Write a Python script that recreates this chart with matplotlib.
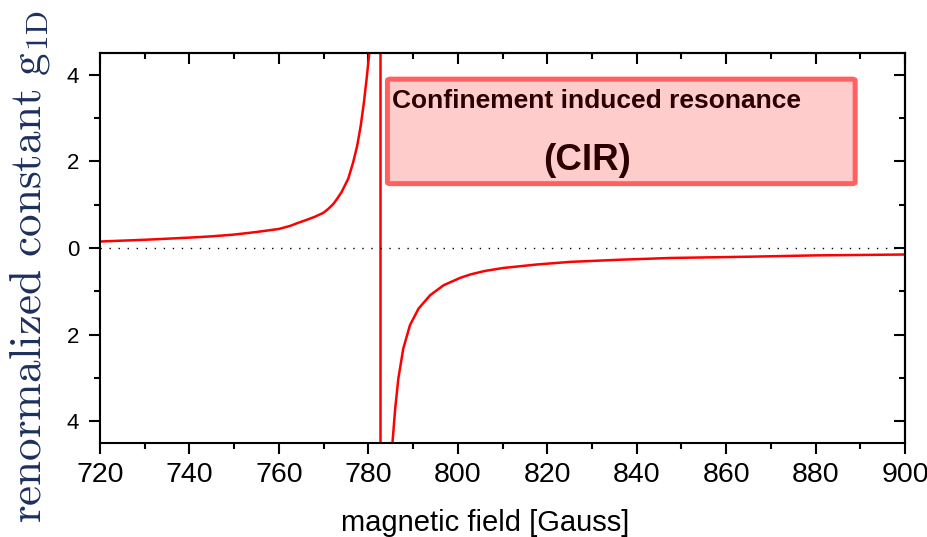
import matplotlib.pyplot as plt
from matplotlib.patches import FancyBboxPatch
from matplotlib.ticker import MultipleLocator, FuncFormatter

plt.rcParams['font.family'] = ['Liberation Sans', 'DejaVu Sans']
plt.rcParams['mathtext.fontset'] = 'cm'

# values
left_field = [720, 730, 740, 745, 750, 755, 760, 762.5, 764, 766.2, 768, 769.9, 771,
              772.2, 773.1, 774.0, 775.5, 776.6, 777.5, 778.3, 779.0, 779.6, 780.2, 780.5]
left_g = [0.15, 0.19, 0.24, 0.27, 0.31, 0.37, 0.44, 0.51, 0.57, 0.65, 0.72, 0.81, 0.90,
          1.02, 1.15, 1.29, 1.60, 1.98, 2.36, 2.83, 3.36, 3.90, 4.5, 5.0]
right_field = [785.2, 785.4, 786.0, 786.7, 787.8, 789.3, 791.2, 793.8, 796.8, 800.5,
               802.8, 806, 810.2, 817.7, 825.1, 836.3, 847.5, 865.4, 880, 900]
right_g = [-5.0, -4.47, -3.70, -3.01, -2.32, -1.78, -1.40, -1.09, -0.86, -0.69,
           -0.61, -0.53, -0.46, -0.38, -0.32, -0.27, -0.23, -0.20, -0.17, -0.15]
cir_field = 782.5

fig = plt.figure(figsize=(9.28, 5.37), dpi=100)
ax = fig.add_axes([0.1078, 0.175, 0.8675, 0.7263])

ax.plot(left_field, left_g, color='red', lw=1.8)
ax.plot(right_field, right_g, color='red', lw=1.8)
ax.axvline(cir_field, color='red', lw=1.8)
ax.axhline(0, color='black', lw=1, linestyle=(0, (1, 5.5)))

ax.set_xlim(720, 900)
ax.set_ylim(-4.5, 4.5)

for s in ax.spines.values():
    s.set_linewidth(1.5)

ax.xaxis.set_major_locator(MultipleLocator(20))
ax.xaxis.set_minor_locator(MultipleLocator(10))
ax.yaxis.set_major_locator(MultipleLocator(2))
ax.yaxis.set_minor_locator(MultipleLocator(1))
# negative values shown without sign, like the original
ax.yaxis.set_major_formatter(FuncFormatter(lambda v, p: '%d' % abs(v)))

ax.tick_params(which='both', direction='out', width=1.5)
ax.tick_params(which='major', length=8)
ax.tick_params(which='minor', length=4.3)
ax.tick_params(axis='x', labelsize=20.5, pad=6)
ax.tick_params(axis='y', labelsize=16, pad=7)

# mirrored ticks pointing inwards on top and right
top = ax.secondary_xaxis('top')
top.xaxis.set_major_locator(MultipleLocator(20))
top.xaxis.set_minor_locator(MultipleLocator(10))
top.tick_params(which='both', direction='in', width=1.5, labeltop=False)
top.tick_params(which='major', length=8)
top.tick_params(which='minor', length=4.3)
right = ax.secondary_yaxis('right')
right.yaxis.set_major_locator(MultipleLocator(2))
right.yaxis.set_minor_locator(MultipleLocator(1))
right.tick_params(which='both', direction='in', width=1.5, labelright=False)
right.tick_params(which='major', length=8)
right.tick_params(which='minor', length=4.3)
top.spines['top'].set_linewidth(1.5)
right.spines['right'].set_linewidth(1.5)

ax.set_xlabel('magnetic field [Gauss]', fontsize=21)
ax.xaxis.set_label_coords(0.478, -0.168)

fig.text(30 / 928, 1 - 267 / 537, r'$\mathrm{renormalized\ constant\ g_{1D}}$',
         rotation=90, ha='center', va='center', fontsize=32.5, color='#1c2f5e')

box = FancyBboxPatch((0.357, 0.665), 0.581, 0.268, boxstyle='round,pad=0,rounding_size=0.004',
                     transform=ax.transAxes, facecolor='#ffcccc', edgecolor='#ff6060',
                     lw=3.6, zorder=3)
ax.add_patch(box)
ax.text(0.3624, 0.860, 'Confinement induced resonance', transform=ax.transAxes,
        fontsize=19, fontweight='bold', color='#2b0000', ha='left', va='baseline', zorder=4)
ax.text(0.605, 0.700, '(CIR)', transform=ax.transAxes,
        fontsize=26.5, fontweight='bold', color='#2b0000', ha='center', va='baseline', zorder=4)

fig.savefig('out.png', dpi=100)
